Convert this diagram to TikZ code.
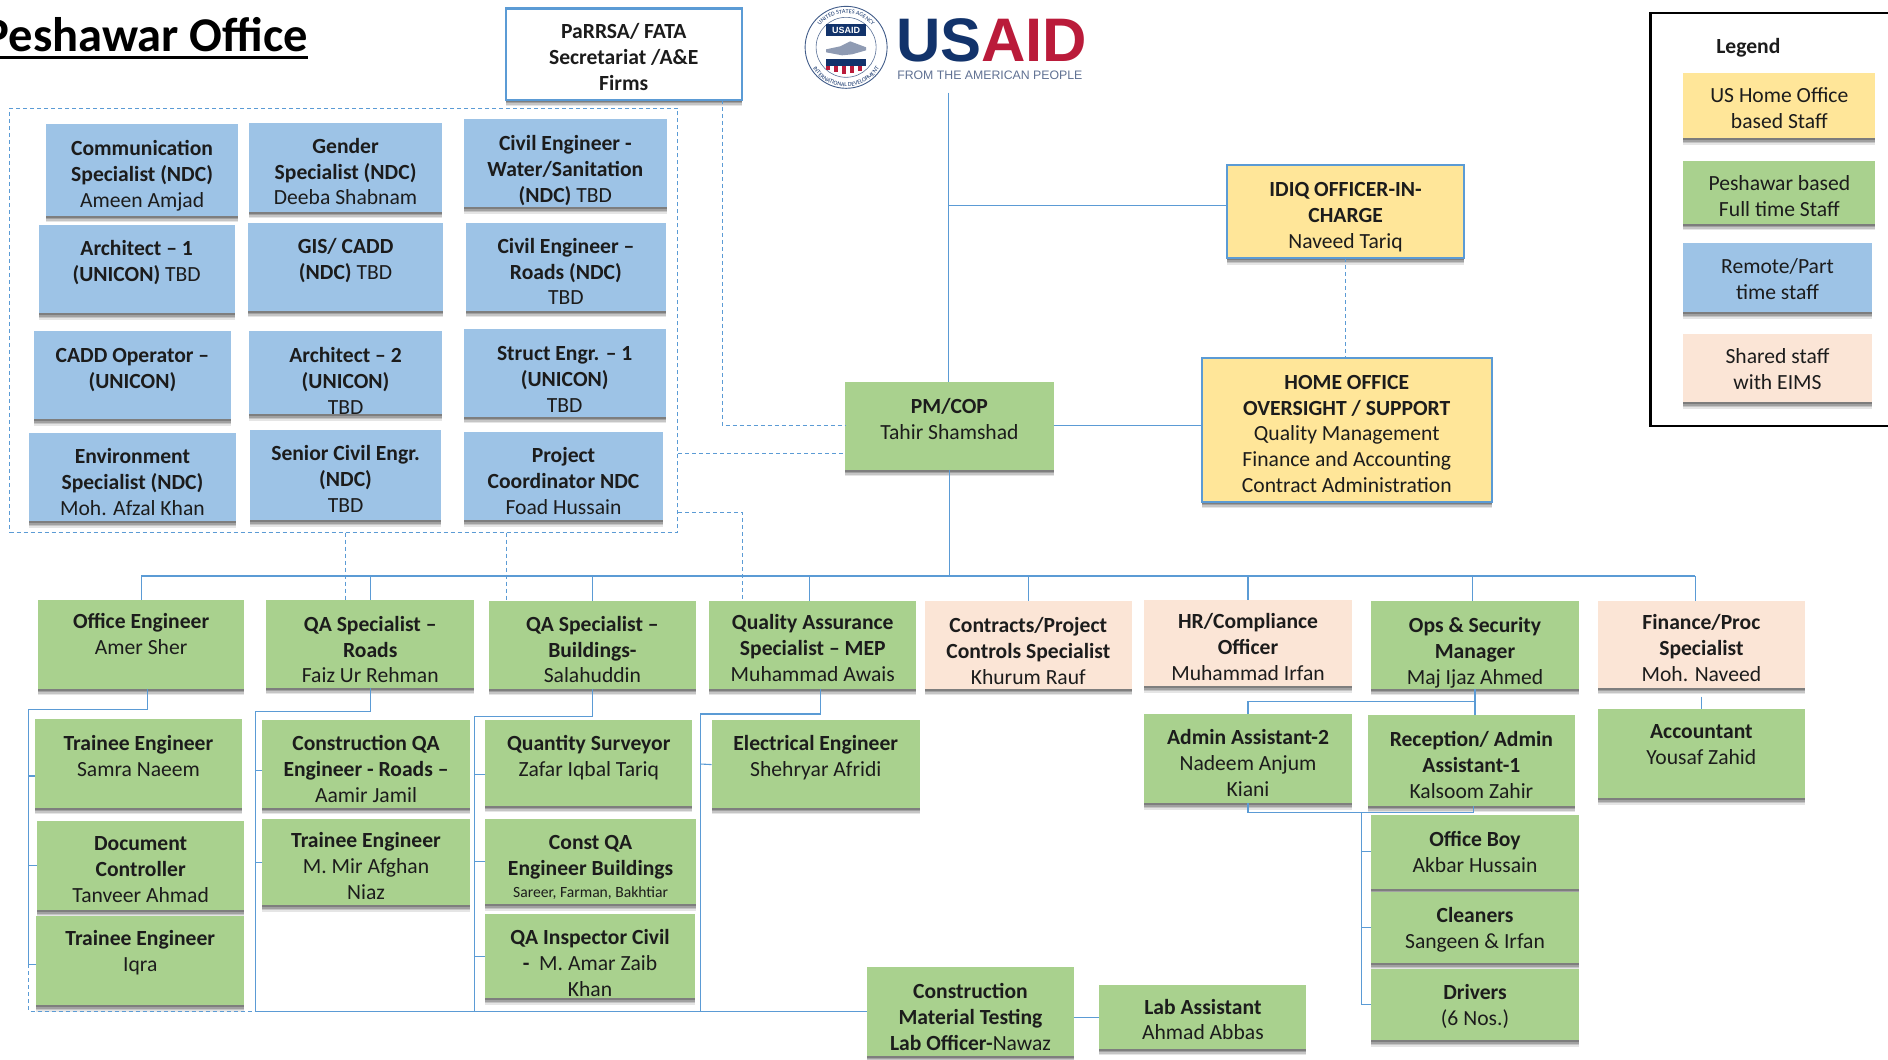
\documentclass[tikz,border=0pt]{standalone}
\usepackage{fontspec}
\setmainfont{Carlito}
\newfontfamily\logofont{Liberation Sans}
\usetikzlibrary{shadows,decorations.text}
\definecolor{conblue}{HTML}{5B9BD5}
\definecolor{fillblue}{HTML}{9DC3E6}
\definecolor{fillgreen}{HTML}{A9D18E}
\definecolor{fillpeach}{HTML}{FBE5D6}
\definecolor{fillyellow}{HTML}{FFE699}
\definecolor{inkdark}{HTML}{1C1C1C}
\definecolor{usnavy}{HTML}{12336B}
\definecolor{usred}{HTML}{BA1B3A}
\definecolor{usgrey}{HTML}{5F7092}
\tikzset{
  softshadow/.style={
     drop shadow={shadow xshift=0pt,shadow yshift=-6.5pt,opacity=.10,fill=black},
     drop shadow={shadow xshift=0pt,shadow yshift=-5pt,opacity=.14,fill=black},
     drop shadow={shadow xshift=0pt,shadow yshift=-3.5pt,opacity=.18,fill=black},
     drop shadow={shadow xshift=0pt,shadow yshift=-2pt,opacity=.22,fill=black}},
  boxbase/.style={rectangle,inner sep=0pt,outer sep=0pt,text=inkdark,
                  font=\fontsize{21.6}{25.9}\selectfont,softshadow},
  bluebox/.style={boxbase,fill=fillblue},
  greenbox/.style={boxbase,fill=fillgreen},
  peachbox/.style={boxbase,fill=fillpeach},
  yellowbox/.style={boxbase,fill=fillyellow,draw=conblue,line width=2.2pt},
  whitebox/.style={boxbase,fill=white,draw=conblue,line width=2.2pt},
  conn/.style={draw=conblue,line width=1.1pt},
  dashconn/.style={draw=conblue,line width=.9pt,dash pattern=on 4pt off 3pt},
}
\newcommand\hd[1]{\textbf{#1}}
\newcommand\bx[8]{%
  \pgfmathsetmacro\bxw{(#4-#2)*1.2041}%
  \pgfmathsetmacro\bxh{(#5-#3)*1.2041}%
  \pgfmathsetmacro\bxc{(#2+#4)/2}%
  \pgfmathsetmacro\byc{(#3+#5)/2}%
  \pgfmathsetmacro\bdy{(\byc-#7-6.2)*1.2041}%
  \node[#6,minimum width=\bxw pt,minimum height=\bxh pt] (#1) at (\bxc,\byc)
    {\raisebox{\bdy pt}[0pt][0pt]{\makebox[0pt]{\begin{tabular}[t]{@{}c@{}}#8\end{tabular}}}};}
\begin{document}
\begin{tikzpicture}[x=1.2041pt,y=-1.2041pt]
\useasboundingbox (0,0) rectangle (1568,880.3);

% title
\node[anchor=base east,inner sep=0pt,font=\fontsize{48.5}{55}\selectfont\bfseries,text=black] (title) at (256,43) {Peshawar Office};
\draw[black,line width=2.8pt] (title.base west |- 0,47.6) -- (title.base east |- 0,47.6);

% group of remote staff
\node[rectangle,draw=conblue,line width=.9pt,dash pattern=on 4pt off 3pt,inner sep=0pt,
      minimum width=668.3pt,minimum height=423.8pt] (grp) at (285.5,266) {};

% remote staff
\bx{comm}{38}{103}{198}{179}{bluebox}{123}{\hd{Communication}\\\hd{Specialist (NDC)}\\Ameen Amjad}
\bx{gender}{207}{102}{367}{176}{bluebox}{121}{\hd{Gender}\\\hd{Specialist (NDC)}\\Deeba Shabnam}
\bx{civw}{385}{99}{554}{172}{bluebox}{119}{\hd{Civil Engineer -}\\\hd{Water/Sanitation}\\\hd{(NDC)} TBD}
\bx{arch1}{32}{187}{195}{260}{bluebox}{206}{\hd{Architect – 1}\\\hd{(UNICON)} TBD}
\bx{gis}{206}{185}{368}{258}{bluebox}{204}{\hd{GIS/ CADD}\\\hd{(NDC)} TBD}
\bx{civr}{387}{185}{553}{258}{bluebox}{204}{\hd{Civil Engineer –}\\\hd{Roads (NDC)}\\TBD}
\bx{cadd}{28}{275}{192}{348}{bluebox}{295}{\hd{CADD Operator –}\\\hd{(UNICON)}}
\bx{arch2}{207}{275}{367}{344}{bluebox}{295}{\hd{Architect – 2}\\\hd{(UNICON)}\\TBD}
\bx{struct}{385}{273}{553}{346}{bluebox}{293}{\hd{Struct Engr. – 1}\\\hd{(UNICON)}\\TBD}
\bx{env}{24}{360}{196}{433}{bluebox}{379}{\hd{Environment}\\\hd{Specialist (NDC)}\\Moh. Afzal Khan}
\bx{senior}{208}{357}{366}{432}{bluebox}{376}{\hd{Senior Civil Engr.}\\\hd{(NDC)}\\TBD}
\bx{proj}{385}{359}{551}{432}{bluebox}{378}{\hd{Project}\\\hd{Coordinator NDC}\\Foad Hussain}

% top
\bx{parrsa}{420}{7}{616}{83}{whitebox}{26}{\hd{PaRRSA/ FATA}\\\hd{Secretariat /A\&E}\\\hd{Firms}}
\bx{idiq}{1019}{137}{1216}{214.6}{yellowbox}{157}{\hd{IDIQ OFFICER-IN-}\\\hd{CHARGE}\\Naveed Tariq}
\bx{home}{998}{297.6}{1239}{416.7}{yellowbox}{317}{\hd{HOME OFFICE}\\\hd{OVERSIGHT / SUPPORT}\\Quality Management\\Finance and Accounting\\Contract Administration}
\bx{pm}{702}{317}{875}{390}{greenbox}{337}{\hd{PM/COP}\\Tahir Shamshad}

% second row
\bx{oe}{31.4}{498}{203}{572}{greenbox}{516}{\hd{Office Engineer}\\Amer Sher}
\bx{qr}{221}{498}{394}{571}{greenbox}{518}{\hd{QA Specialist –}\\\hd{Roads}\\Faiz Ur Rehman}
\bx{qb}{406}{499}{578}{572}{greenbox}{518}{\hd{QA Specialist –}\\\hd{Buildings-}\\Salahuddin}
\bx{qual}{589}{499}{761}{572}{greenbox}{517}{\hd{Quality Assurance}\\\hd{Specialist – MEP}\\Muhammad Awais}
\bx{contr}{768}{499}{940}{572}{peachbox}{519}{\hd{Contracts/Project}\\\hd{Controls Specialist}\\Khurum Rauf}
\bx{hr}{950}{498}{1123}{570}{peachbox}{516}{\hd{HR/Compliance}\\\hd{Officer}\\Muhammad Irfan}
\bx{ops}{1139}{499}{1311}{572}{greenbox}{519}{\hd{Ops \& Security}\\\hd{Manager}\\Maj Ijaz Ahmed}
\bx{fin}{1327}{499}{1499}{571}{peachbox}{517}{\hd{Finance/Proc}\\\hd{Specialist}\\Moh. Naveed}

% third level
\bx{samra}{29}{597}{201}{671}{greenbox}{617}{\hd{Trainee Engineer}\\Samra Naeem}
\bx{doc}{30.6}{682}{203}{756}{greenbox}{700}{\hd{Document}\\\hd{Controller}\\Tanveer Ahmad}
\bx{iqra}{30}{761}{203}{835}{greenbox}{779}{\hd{Trainee Engineer}\\Iqra}
\bx{cqa}{218}{598}{390}{671}{greenbox}{617}{\hd{Construction QA}\\\hd{Engineer - Roads –}\\Aamir Jamil}
\bx{mir}{218}{680}{390}{752}{greenbox}{698}{\hd{Trainee Engineer}\\M. Mir Afghan\\Niaz}
\bx{qs}{403}{598}{575}{669}{greenbox}{617}{\hd{Quantity Surveyor}\\Zafar Iqbal Tariq}
\bx{cqb}{403}{680}{578}{751}{greenbox}{699}{\hd{Const QA}\\\hd{Engineer Buildings}\\\raisebox{3.5pt}{\fontsize{15.6}{17}\selectfont Sareer, Farman, Bakhtiar}}
\bx{insp}{403}{759}{577}{829}{greenbox}{778}{\hd{QA Inspector Civil}\\\hd{-}\ \ M. Amar Zaib\\Khan}
\bx{elec}{591}{598}{764}{671}{greenbox}{617}{\hd{Electrical Engineer}\\Shehryar Afridi}
\bx{admin}{950}{593}{1123}{667}{greenbox}{612}{\hd{Admin Assistant-2}\\Nadeem Anjum\\Kiani}
\bx{recep}{1136}{594}{1308}{669}{greenbox}{614}{\hd{Reception/ Admin}\\\hd{Assistant-1}\\Kalsoom Zahir}
\bx{acct}{1327}{589}{1499}{663}{greenbox}{607}{\hd{Accountant}\\Yousaf Zahid}
\bx{boy}{1139}{677}{1311}{738}{greenbox}{697}{\hd{Office Boy}\\Akbar Hussain}
\bx{clean}{1139}{741}{1311}{800}{greenbox}{760}{\hd{Cleaners}\\Sangeen \& Irfan}
\bx{driv}{1139}{805}{1311}{864}{greenbox}{824}{\hd{Drivers}\\(6 Nos.)}
\bx{cml}{720}{803}{892}{877}{greenbox}{823}{\hd{Construction}\\\hd{Material Testing}\\\hd{Lab Officer-}Nawaz}
\bx{lab}{913}{818}{1085}{871}{greenbox}{836}{\hd{Lab Assistant}\\Ahmad Abbas}

% legend
\node[rectangle,draw=black,line width=2.4pt,fill=white,inner sep=0pt,minimum width=246pt,minimum height=413pt] (legend) at (1473,182.5) {};
\node[font=\fontsize{21.6}{25.9}\selectfont\bfseries,text=inkdark,inner sep=0pt] (legt) at (1452,40) {Legend};
\bx{lgy}{1398}{61}{1557.5}{115}{boxbase,fill=fillyellow}{79}{US Home Office\\based Staff}
\bx{lgg}{1398}{133.4}{1557.5}{186}{greenbox}{152}{Peshawar based\\Full time Staff}
\bx{lgb}{1398}{201.5}{1554.4}{259.4}{bluebox}{221}{Remote/Part\\time staff}
\bx{lgp}{1398}{277.4}{1554.4}{334}{peachbox}{296}{Shared staff\\with EIMS}

% logo
\node[anchor=base west,inner sep=0pt,font=\logofont\bfseries\fontsize{61.5}{62}\selectfont] (usaid) at (744,51) {\textcolor{usnavy}{US}\textcolor{usred}{AID}};
\node[anchor=base west,inner sep=0pt,font=\logofont\fontsize{12.3}{14}\selectfont,text=usgrey] (tag) at (745,66) {FROM THE AMERICAN PEOPLE};
\begin{scope}[shift={(702.7,39.3)},x=1pt,y=1pt]
  \draw[usnavy!80,line width=.9pt,fill=white] (0,0) circle (41pt);
  \draw[usnavy!70,line width=.6pt] (0,0) circle (30pt);
  \path[decorate,decoration={text along path,text align=center,
     text={|\fontsize{6}{7}\selectfont\color{usnavy}|UNITED STATES AGENCY}}]
     (-33,8) arc[start angle=166,end angle=14,radius=34];
  \path[decorate,decoration={text along path,text align=center,
     text={|\fontsize{6}{7}\selectfont\color{usnavy}|INTERNATIONAL DEVELOPMENT}}]
     (-39,-6) arc[start angle=189,end angle=351,radius=39.5];
  \fill[usnavy] (-20,11) rectangle (20,23);
  \node[text=white,font=\logofont\bfseries\fontsize{9}{10}\selectfont,inner sep=0pt] (sealtxt) at (0,17) {USAID};
  \fill[usgrey!70] (-20,-2) -- (-6,1) -- (4,6) -- (20,0) -- (20,-3) -- (6,-7) -- (-4,-8) -- (-20,-5) -- cycle;
  \fill[usnavy] (-20,-12) rectangle (20,-19);
  \foreach \sx in {-20,-12,-4,4,12} \fill[usred] (\sx,-19) rectangle ++(4,{-8+abs(\sx+2)/4});
\end{scope}

% solid connectors
\coordinate (top) at (787.5,77);
\coordinate (busL) at (117.5,478.4);
\coordinate (busR) at (1408,478.4);
\draw[conn] (top) -- (top |- pm.north);
\draw[conn] ([shift={(0,-4.8)}]idiq.west) -- ([shift={(0,-4.8)}]idiq.west -| top);
\draw[conn] (pm.east) -- (pm.east -| home.west);
\draw[conn] (pm.south) -- (pm.south |- busL);
\draw[conn] (busL) -- (busR);
\draw[conn] (busL) -- (busL |- oe.north);
\draw[conn] (qr.north |- busL) -- (qr.north);
\draw[conn] (qb.north |- busL) -- (qb.north);
\draw[conn] ([shift={(-3,0)}]qual.north |- busL) -- ([shift={(-3,0)}]qual.north);
\draw[conn] (contr.north |- busL) -- (contr.north);
\draw[conn] (hr.north |- busL) -- (hr.north);
\draw[conn] ([shift={(-2.3,0)}]ops.north |- busL) -- ([shift={(-2.3,0)}]ops.north);
\draw[conn] (busR) -- (busR |- fin.north);

% office engineer branch
\coordinate (jo) at (23.5,589);
\draw[conn] ([shift={(5,0)}]oe.south) |- (jo);
\draw[conn] (jo) |- ([shift={(0,3)}]iqra.west);
\draw[conn] ([shift={(0,10.5)}]samra.west) -- ([shift={(0,10.5)}]samra.west -| jo);
\draw[conn] (doc.west) -- (doc.west -| jo);
% roads branch
\coordinate (jr) at (212,591);
\draw[conn] (qr.south) |- (jr);
\draw[conn] (jr) -- (jr |- cml.west);
\draw[conn] ([shift={(0,5.3)}]cqa.west) -- ([shift={(0,5.3)}]cqa.west -| jr);
\draw[conn] (mir.west) -- (mir.west -| jr);
% buildings branch
\coordinate (jb) at (394,595);
\draw[conn] (qb.south) |- (jb);
\draw[conn] (jb) -- (jb |- cml.west);
\draw[conn] ([shift={(0,9.5)}]qs.west) -- ([shift={(0,9.5)}]qs.west -| jb);
\draw[conn] (cqb.west) -- (cqb.west -| jb);
\draw[conn] (insp.west -| jb) -- (insp.west);
% MEP branch
\coordinate (jm) at (581.5,593);
\draw[conn] ([shift={(6.5,0)}]qual.south) |- (jm);
\draw[conn] (jm) -- (jm |- cml.west);
\draw[conn] (elec.west -| jm) -- ([shift={(0,0.5)}]elec.west);
% lab bus
\draw[conn] (cml.west) -- (cml.west -| jr);
\draw[conn] ([shift={(0,5)}]cml.east) -- ([shift={(0,5)}]cml.east -| lab.west);
% ops branch
\coordinate (ja) at (1225,582.5);
\draw[conn] (ops.south) -- (ja) -| (admin.north);
\draw[conn] (ja) -- (ja |- recep.north);
% admin / reception to support staff
\coordinate (js) at (1131,674.7);
\draw[conn] (admin.south) |- (js);
\draw[conn] (js) -| ([shift={(2,0)}]recep.south);
\draw[conn] (js) |- (driv.west);
\draw[conn] (js |- boy.west) -- (boy.west);
\draw[conn] (js |- clean.west) -- (clean.west);
% accountant
\coordinate (fa) at (1413.4,578.6);
\draw[conn] (fa) -- (fa |- acct.north);

% dashed connectors
\draw[dashconn] ([shift={(82,0)}]parrsa.south) |- (pm.west);
\draw[dashconn] ([shift={(0,111)}]grp.east) -- ([shift={(0,111)}]grp.east -| pm.west);
\draw[dashconn] ([shift={(0,160)}]grp.east) -| ([shift={(-58,0)}]qual.north);
\coordinate (d1) at ([shift={(1,0)}]grp.south);
\coordinate (d2) at ([shift={(135,0)}]grp.south);
\draw[dashconn] (d1) -- (d1 |- qr.north);
\draw[dashconn] (d2) -- (d2 |- qb.north);
\draw[dashconn] (idiq.south) -- (idiq.south |- home.north);
\coordinate (jd) at ([shift={(0,3)}]iqra.west -| jo);
\coordinate (jc) at (jr |- 0,839.7);
\draw[dashconn] (jd) |- (jc);
\end{tikzpicture}
\end{document}
